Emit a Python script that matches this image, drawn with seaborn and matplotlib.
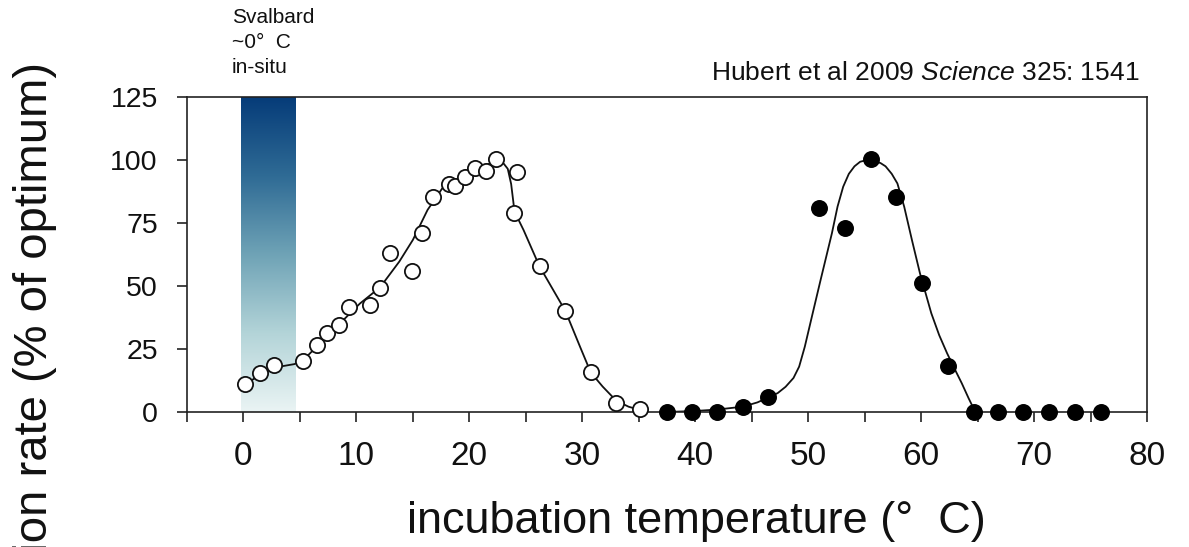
import numpy as np
import pandas as pd
import matplotlib
matplotlib.use("Agg")
import matplotlib.pyplot as plt
from matplotlib.colors import LinearSegmentedColormap
import seaborn as sns

# ---------------- data ----------------
open_temp = [0.15, 1.42, 2.72, 5.23, 6.5, 7.42, 8.42, 9.34, 11.2, 12.06, 12.97, 14.95,
             15.8, 16.78, 18.2, 18.7, 19.6, 20.5, 21.45, 22.4, 23.96, 24.26, 26.24,
             28.5, 30.75, 32.95, 35.15]
open_rate = [11.0, 15.6, 18.5, 20.2, 26.6, 31.2, 34.5, 41.8, 42.6, 49.2, 63.0, 56.1,
             70.9, 85.4, 90.5, 89.7, 93.4, 96.7, 95.8, 100.3, 78.8, 95.1, 57.9,
             40.1, 15.7, 3.4, 1.1]

filled_temp = [37.46, 39.73, 41.93, 44.24, 46.47, 51.0, 53.29, 55.56, 57.8, 60.1,
               62.34, 64.64, 66.85, 69.05, 71.36, 73.63, 75.9]
filled_rate = [0, 0, 0, 2.1, 5.8, 80.8, 72.9, 100.3, 85.4, 51.1, 18.4, 0, 0, 0, 0, 0, 0]

fit_open_temp = [0.15, 1.4, 2.7, 4.5, 5.2, 6.5, 7.4, 8.4, 10.3, 12.1, 13.8, 15.0, 16.3,
                 17.7, 18.7, 19.6, 21.0, 22.3, 23.0, 23.4, 23.7, 24.0, 24.8, 26.2,
                 28.5, 29.8, 30.75, 31.8, 33.0, 34.1, 35.1]
fit_open_rate = [11.0, 14.5, 17.6, 19.0, 20.2, 26.0, 30.5, 34.5, 43.0, 49.5, 59.7, 68.3,
                 80.2, 89.4, 91.8, 94.0, 97.3, 99.3, 98.8, 96.5, 90.5, 79.5, 72.2, 57.9,
                 40.1, 25.9, 15.7, 10.1, 4.5, 2.1, 0.8]

fit_filled_temp = [37.5, 40.0, 42.0, 44.2, 45.5, 46.5, 47.3, 48.0, 48.7, 49.2, 49.7,
                   50.4, 51.1, 52.1, 52.6, 53.1, 53.6, 54.1, 54.6, 55.2, 55.8, 56.4,
                   56.85, 57.4, 57.9, 58.5, 59.2, 59.9, 60.9, 61.6, 62.3, 63.0, 63.6,
                   64.2, 64.8]
fit_filled_rate = [0.0, 0.4, 1.0, 2.1, 3.8, 5.8, 7.5, 10.0, 13.5, 18.0, 25.9,
                   39.2, 52.4, 70.9, 81.5, 89.4, 94.5, 97.5, 99.3, 100.0, 99.6, 98.8,
                   97.5, 94.5, 90.7, 81.5, 68.0, 55.0, 39.2, 30.5, 23.3, 16.8, 11.4,
                   5.5, 0.0]

insitu_band = [-0.25, 4.55]          # Svalbard in-situ temperature band (x range)
x_major = [0, 10, 20, 30, 40, 50, 60, 70, 80]
x_minor = [-5, 5, 15, 25, 35, 45, 55, 65, 75]
y_ticks = [0, 25, 50, 75, 100, 125]

# ---------------- style ----------------
sns.set_style("ticks")
plt.rcParams["font.family"] = ["Liberation Sans", "DejaVu Sans"]
plt.rcParams["mathtext.fontset"] = "custom"
plt.rcParams["mathtext.it"] = "Liberation Sans:italic"
plt.rcParams["mathtext.rm"] = "Liberation Sans"

W, H = 1189, 547
fig = plt.figure(figsize=(W / 100, H / 100), dpi=100)
ax = fig.add_axes([187 / W, 1 - 412 / H, (1147 - 187) / W, (412 - 97) / H])

# gradient band
cmap = LinearSegmentedColormap.from_list(
    "insitu", ["#eaf4f4", "#b3d4d8", "#6fa3b6", "#2f6b95", "#063c79"])
grad = np.linspace(0, 1, 256).reshape(-1, 1)
ax.imshow(grad, cmap=cmap, origin="lower", aspect="auto",
          extent=[insitu_band[0], insitu_band[1], 0, 125], zorder=0)

df_fit1 = pd.DataFrame({"t": fit_open_temp, "r": fit_open_rate})
df_fit2 = pd.DataFrame({"t": fit_filled_temp, "r": fit_filled_rate})
sns.lineplot(data=df_fit1, x="t", y="r", ax=ax, color="#111111", lw=1.3,
             sort=False, estimator=None, zorder=2)
sns.lineplot(data=df_fit2, x="t", y="r", ax=ax, color="#111111", lw=1.3,
             sort=False, estimator=None, zorder=2)

df_open = pd.DataFrame({"t": open_temp, "r": open_rate})
df_fill = pd.DataFrame({"t": filled_temp, "r": filled_rate})
sns.scatterplot(data=df_open, x="t", y="r", ax=ax, s=120, color="white",
                edgecolor="#111111", linewidth=1.3, zorder=3)
sns.scatterplot(data=df_fill, x="t", y="r", ax=ax, s=125, color="black",
                edgecolor="black", linewidth=1.0, zorder=3)
for coll in ax.collections:
    coll.set_clip_on(False)

ax.set_xlim(-5, 80)
ax.set_ylim(0, 125)
ax.set_xticks(x_major)
ax.set_xticks(x_minor, minor=True)
ax.set_yticks(y_ticks)
ax.set_xticklabels([str(v) for v in x_major])
ax.set_yticklabels([str(v) for v in y_ticks])
ax.set_xlabel("")
ax.set_ylabel("")

for sp in ax.spines.values():
    sp.set_visible(True)
    sp.set_linewidth(1.2)
    sp.set_color("#222222")

ax.tick_params(axis="x", which="both", direction="out", length=7, width=1.2,
               color="#222222", labelsize=24, pad=14, labelcolor="#111111")
ax.tick_params(axis="y", which="both", direction="out", length=7, width=1.2,
               color="#222222", labelsize=20.5, pad=14, labelcolor="#111111")

# texts
fig.text(696 / W, 1 - 533 / H, "incubation temperature (°  C)", ha="center",
         va="baseline", fontsize=32.5, color="#111111")
fig.text(35 / W, 1 - 62 / H, "sulfate reduction rate (% of optimum)", rotation=90,
         ha="center", va="top", fontsize=34, color="#111111")

for line, base in zip(["Svalbard", "~0°  C", "in-situ"], [23, 48, 73]):
    fig.text(232 / W, 1 - base / H, line, ha="left", va="baseline",
             fontsize=15, color="#111111")

fig.text(1139 / W, 1 - 80 / H, r"Hubert et al 2009 $\it{Science}$ 325: 1541",
         ha="right", va="baseline", fontsize=19, color="#111111")

fig.savefig("out.png", dpi=100)
